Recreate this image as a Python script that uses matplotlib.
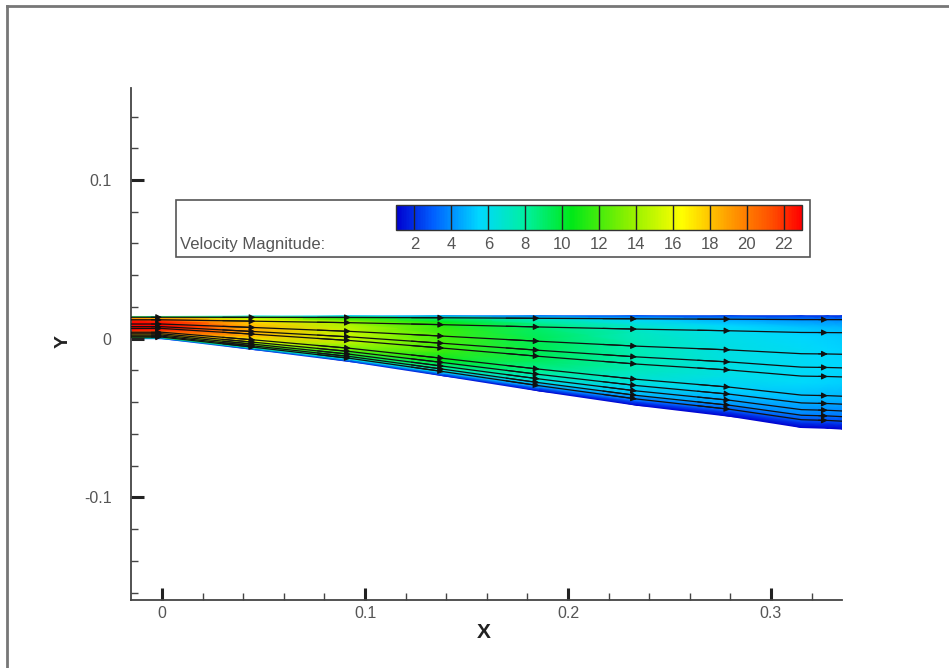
import numpy as np
import matplotlib
matplotlib.use("Agg")
import matplotlib.pyplot as plt
from matplotlib.colors import LinearSegmentedColormap, Normalize
from matplotlib.patches import Rectangle
from matplotlib.lines import Line2D
import matplotlib.ticker as mticker

plt.rcParams['font.family'] = ['Liberation Sans', 'DejaVu Sans']

# channel geometry (stations along x)
x_stations = [-0.015, 0.0, 0.046, 0.093, 0.139, 0.186, 0.234, 0.28, 0.315, 0.328, 0.335]
y_bottom = [0.0, 0.0, -0.007, -0.0145, -0.0235, -0.033, -0.042, -0.049, -0.056, -0.0565, -0.057]
y_top = [0.014, 0.014, 0.0142, 0.0144, 0.0145, 0.0145, 0.0145, 0.0145, 0.0145, 0.0145, 0.0145]

# centre-line speed at each station
core_speed = [23.5, 23.0, 18.5, 15.0, 12.0, 9.5, 7.5, 6.3, 5.8, 5.6, 5.5]

# speed across the channel, fraction of core speed (bottom wall -> top wall)
eta = [0.0, 0.05, 0.12, 0.25, 0.4, 0.55, 0.7, 0.82, 0.9, 0.96, 1.0]
profile = [0.12, 0.4, 0.65, 0.85, 0.97, 1.0, 0.99, 0.95, 0.88, 0.72, 0.35]

# streamlines as fraction of channel height from bottom
stream_eta = [0.07, 0.11, 0.16, 0.22, 0.29, 0.46, 0.54, 0.66, 0.85, 0.965]
arrow_x = [0.0, 0.046, 0.093, 0.139, 0.186, 0.234, 0.28, 0.328]

# legend
levels = [2, 4, 6, 8, 10, 12, 14, 16, 18, 20, 22]
vmin, vmax = 1, 23
cmap_values = [1, 3, 5.5, 8, 10.5, 13.5, 16.5, 19, 21.5, 23]
cmap_colors = ["#0000d0", "#0060ff", "#00d8ff", "#00f0a0", "#00e818",
               "#88f000", "#ffff00", "#ffa000", "#ff4a00", "#ff0000"]

cmap = LinearSegmentedColormap.from_list(
    "tec", [((v - vmin) / (vmax - vmin), c) for v, c in zip(cmap_values, cmap_colors)])
norm = Normalize(vmin, vmax)

fig = plt.figure(figsize=(9.49, 6.68), dpi=100)
ax = fig.add_axes([131/949, 1-600/668, 711/949, 512/668])

xs = np.array(x_stations)
yb = np.array(y_bottom)
yt = np.array(y_top)
et = np.array(eta)
X = np.tile(xs, (len(et), 1))
Y = yb[None, :] + et[:, None] * (yt - yb)[None, :]
C = np.array(profile)[:, None] * np.array(core_speed)[None, :]
ax.pcolormesh(X, Y, C, cmap=cmap, norm=norm, shading='gouraud', zorder=1)

for s in stream_eta:
    sy = yb + s * (yt - yb)
    ax.plot(xs, sy, color='#111111', lw=0.9, zorder=3)
    for ax_x in arrow_x:
        i = x_stations.index(ax_x)
        x0 = xs[i] - 0.35 * (xs[i] - xs[i-1])
        y0 = sy[i] - 0.35 * (sy[i] - sy[i-1])
        ax.annotate('', xy=(xs[i], sy[i]), xytext=(x0, y0),
                    arrowprops=dict(arrowstyle='-|>', color='#111111', lw=0.8,
                                    mutation_scale=9, shrinkA=0, shrinkB=0),
                    zorder=4)

ax.set_xlim(-0.0153, 0.335)
ax.set_ylim(-0.1647, 0.158)
for side in ['top', 'right']:
    ax.spines[side].set_visible(False)
for side in ['left', 'bottom']:
    ax.spines[side].set_color('#444444')
    ax.spines[side].set_linewidth(1.3)

ax.xaxis.set_major_locator(mticker.FixedLocator([0, 0.1, 0.2, 0.3]))
ax.xaxis.set_major_formatter(mticker.FixedFormatter(['0', '0.1', '0.2', '0.3']))
ax.xaxis.set_minor_locator(mticker.MultipleLocator(0.02))
ax.yaxis.set_major_locator(mticker.FixedLocator([-0.1, 0, 0.1]))
ax.yaxis.set_major_formatter(mticker.FixedFormatter(['-0.1', '0', '0.1']))
ax.yaxis.set_minor_locator(mticker.MultipleLocator(0.02))
ax.tick_params(which='major', direction='in', length=9, width=2.2, color='#222222',
               labelsize=11.5, labelcolor='#555555')
ax.tick_params(which='minor', direction='in', length=5, width=1, color='#444444')
ax.tick_params(axis='y', which='major', pad=14)
ax.tick_params(axis='x', which='major', pad=4)

ax.set_xlabel('X', fontsize=15, fontweight='bold', color='#222222')
ax.set_ylabel('Y', fontsize=14, fontweight='bold', color='#222222')
ax.xaxis.set_label_coords((484-131)/711, -(632-600)/512)
ax.xaxis.label.set_va('center')
ax.yaxis.set_label_coords((63-131)/711, (600-342)/512)
ax.yaxis.label.set_va('center')

# legend box
box = Rectangle((176/949, 1-257/668), 634/949, 57/668, transform=fig.transFigure,
                facecolor='white', edgecolor='#555555', lw=1.2, zorder=2)
fig.patches.append(box)

cax = fig.add_axes([396/949, 1-230/668, 406/949, 25/668])
cax.set_zorder(3)
cb = matplotlib.colorbar.ColorbarBase(cax, cmap=cmap, norm=norm, orientation='horizontal')
cb.set_ticks(levels)
cb.set_ticklabels([str(v) for v in levels])
cb.outline.set_edgecolor('#333333')
cb.outline.set_linewidth(1)
cax.tick_params(length=0, labelsize=12, labelcolor='#555555', pad=5)
for v in levels:
    cax.axvline(v, color='#222222', lw=1)

fig.text(180/949, 1-245/668, 'Velocity Magnitude:', fontsize=12, color='#555555',
         va='center', ha='left', zorder=4)

# outer frame (top and left only)
fig.add_artist(Line2D([7/949, 1], [1-6/668, 1-6/668], transform=fig.transFigure,
                      color='#777777', lw=2))
fig.add_artist(Line2D([7/949, 7/949], [0, 1-6/668], transform=fig.transFigure,
                      color='#777777', lw=2))

fig.savefig('out.png', dpi=100)
